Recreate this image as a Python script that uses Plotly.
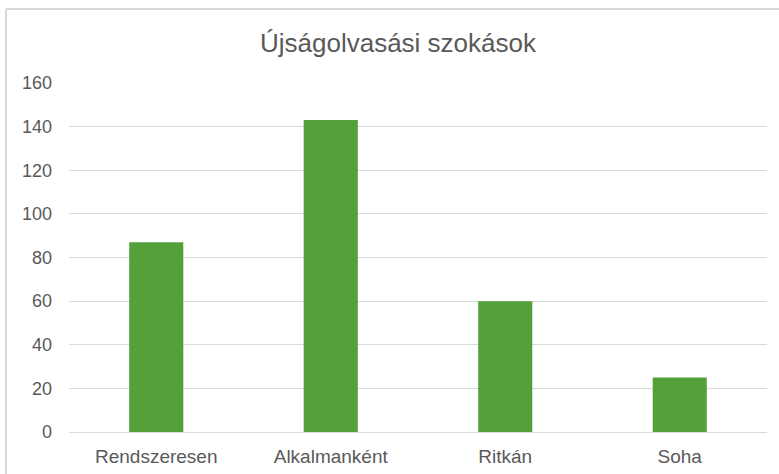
import plotly.graph_objects as go

categories = ["Rendszeresen", "Alkalmanként", "Ritkán", "Soha"]
values = [87, 143, 60, 25]
y_ticks = [0, 20, 40, 60, 80, 100, 120, 140, 160]

W, H = 779, 474
L, R, T, B = 69, 12, 83, 42
plot_w = W - L - R
plot_h = H - T - B

fig = go.Figure()

fig.add_trace(go.Bar(
    x=categories,
    y=values,
    marker=dict(color="rgb(84,160,59)", line=dict(width=0)),
    hoverinfo="x+y"
))

# chart area frame (only top and left edges visible in the crop)
frame_x = (6 - L) / plot_w
frame_y = (plot_h + T - 9) / plot_h
fig.add_shape(type="line", xref="paper", yref="paper",
              x0=frame_x, x1=1.2, y0=frame_y, y1=frame_y,
              line=dict(color="#d9d9d9", width=2))
fig.add_shape(type="line", xref="paper", yref="paper",
              x0=frame_x, x1=frame_x, y0=frame_y, y1=-0.3,
              line=dict(color="#d9d9d9", width=2))

fig.update_layout(
    width=W,
    height=H,
    margin=dict(l=L, r=R, t=T, b=B),
    paper_bgcolor="white",
    plot_bgcolor="white",
    showlegend=False,
    bargap=0.69,
    font=dict(family="Liberation Sans, Arial, sans-serif", color="#595959"),
    title=dict(
        text="Újságolvasási szokások",
        font=dict(size=26, color="#595959"),
        x=398 / W, xanchor="center",
        y=1 - 43 / H, yanchor="middle"
    ),
    xaxis=dict(
        showgrid=False,
        showline=True,
        linecolor="#d9d9d9",
        linewidth=1,
        ticks="",
        automargin=False,
        tickfont=dict(size=19, color="#595959"),
        ticklabelstandoff=7
    ),
    yaxis=dict(
        range=[0, 160],
        tickvals=y_ticks,
        showgrid=True,
        gridcolor="#d9d9d9",
        gridwidth=1,
        zeroline=False,
        showline=False,
        ticks="",
        automargin=False,
        tickfont=dict(size=18, color="#595959"),
        ticklabelstandoff=16
    )
)

# drop the default page margin so the figure sits at the window's corner
fig.write_html("out.html", config={"displayModeBar": False},
               post_script="document.body.style.margin='0';")
